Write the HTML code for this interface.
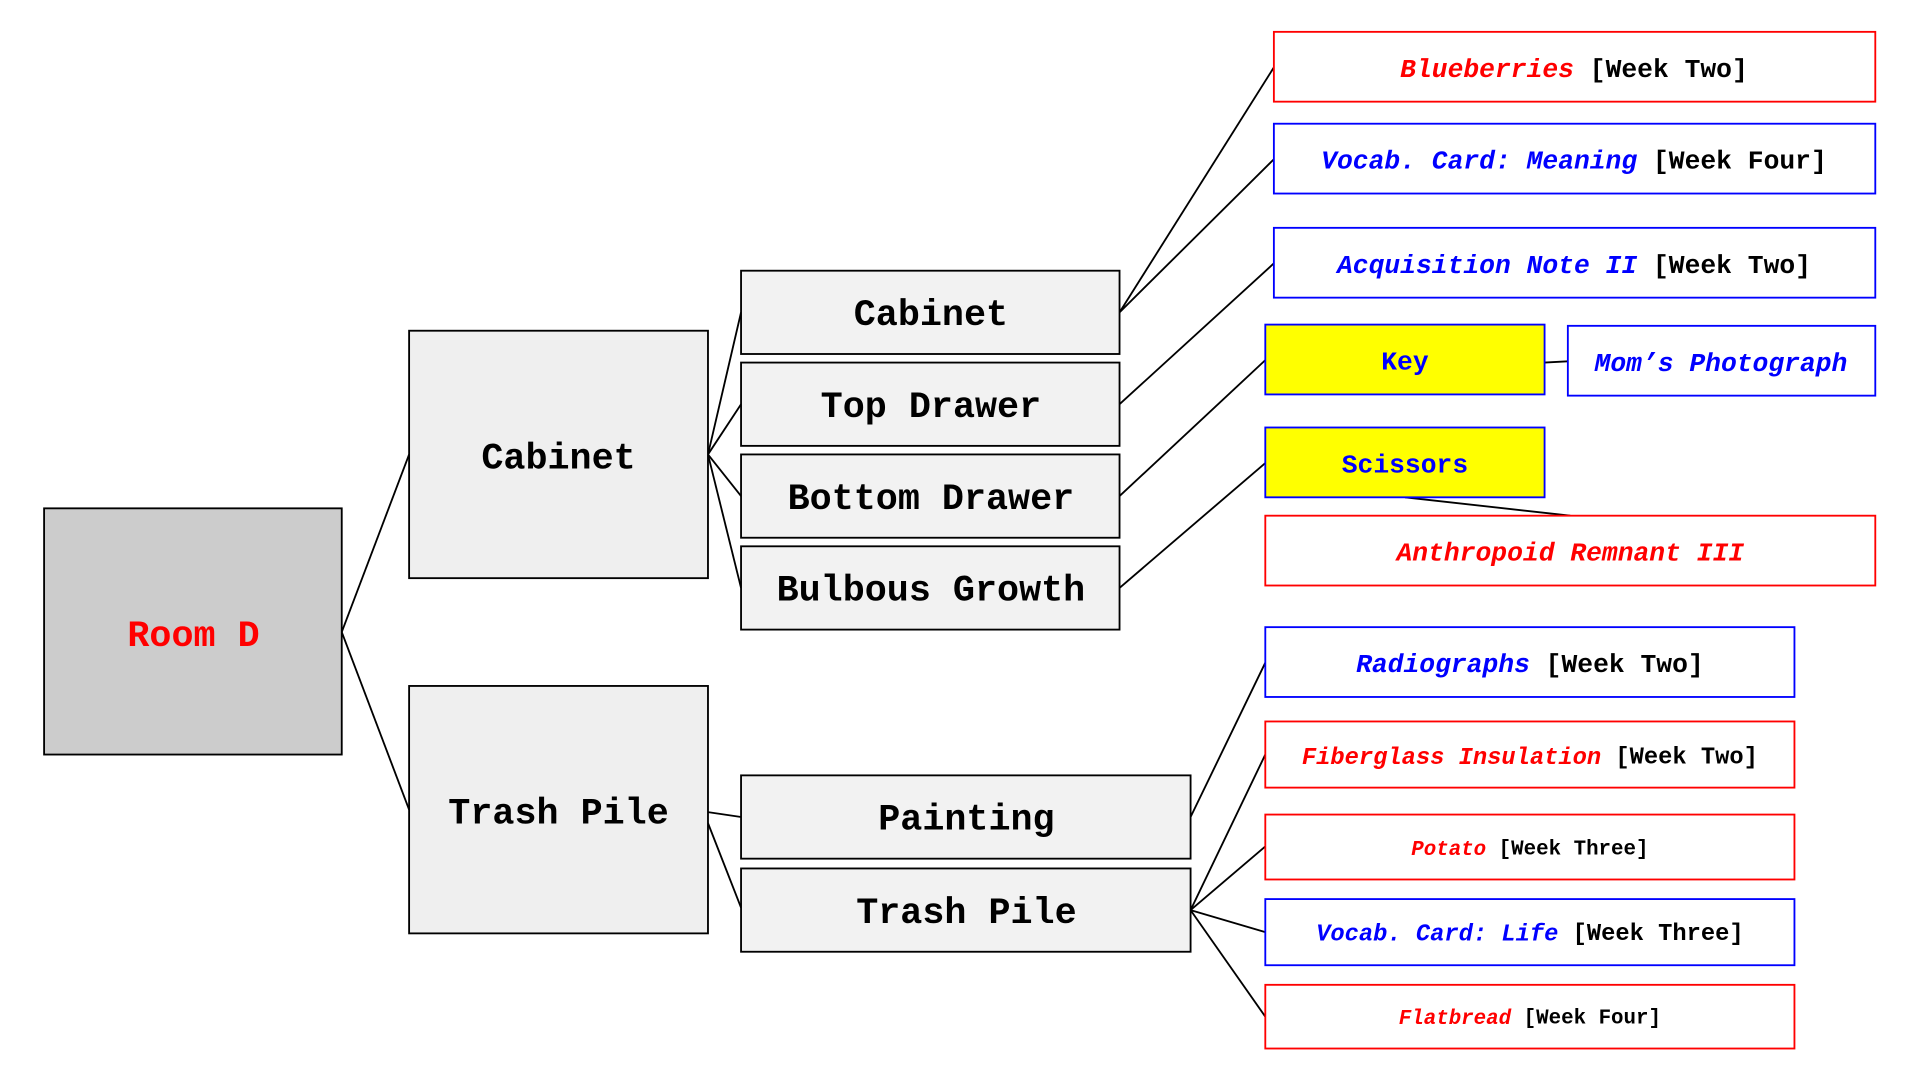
<!DOCTYPE html>
<html><head><meta charset="utf-8"><style>
html,body{margin:0;padding:0;background:#fff;width:1920px;height:1080px;overflow:hidden}
svg{display:block}
text{font-family:"Liberation Mono","DejaVu Sans Mono",monospace;font-weight:bold;text-anchor:middle;dominant-baseline:central}
</style></head><body>
<svg width="1920" height="1080" viewBox="0 0 1567.5 881.7" preserveAspectRatio="none" xmlns="http://www.w3.org/2000/svg">
<g stroke="#000" stroke-width="1.5" fill="none">
<line x1="279" y1="516" x2="334" y2="371"/>
<line x1="279" y1="516" x2="334" y2="661"/>
<line x1="578" y1="371" x2="605" y2="255"/>
<line x1="578" y1="371" x2="605" y2="330"/>
<line x1="578" y1="371" x2="605" y2="405"/>
<line x1="578" y1="371" x2="605" y2="480"/>
<line x1="578" y1="663" x2="605" y2="667"/>
<line x1="578" y1="672" x2="605" y2="741"/>
<line x1="914" y1="255" x2="1040" y2="55"/>
<line x1="914" y1="255" x2="1040" y2="130"/>
<line x1="914" y1="330" x2="1040" y2="215"/>
<line x1="914" y1="405" x2="1033" y2="294"/>
<line x1="914" y1="480" x2="1033" y2="378"/>
<line x1="1261" y1="296" x2="1280" y2="295"/>
<line x1="1147" y1="406" x2="1282" y2="421"/>
<line x1="972" y1="667" x2="1033" y2="541"/>
<line x1="972" y1="743" x2="1033" y2="616"/>
<line x1="972" y1="743" x2="1033" y2="691"/>
<line x1="972" y1="743" x2="1033" y2="761"/>
<line x1="972" y1="743" x2="1033" y2="830"/>
</g>
<g stroke="#000" stroke-width="1.5">
<rect x="36" y="415" width="243" height="201" fill="#cccccc"/>
<rect x="334" y="270" width="244" height="202" fill="#efefef"/>
<rect x="334" y="560" width="244" height="202" fill="#efefef"/>
<rect x="605" y="221" width="309" height="68" fill="#f2f2f2"/>
<rect x="605" y="296" width="309" height="68" fill="#f2f2f2"/>
<rect x="605" y="371" width="309" height="68" fill="#f2f2f2"/>
<rect x="605" y="446" width="309" height="68" fill="#f2f2f2"/>
<rect x="605" y="633" width="367" height="68" fill="#f2f2f2"/>
<rect x="605" y="709" width="367" height="68" fill="#f2f2f2"/>
</g>
<g stroke-width="1.5" fill="#fff">
<rect x="1040" y="26" width="491" height="57" stroke="#f00"/>
<rect x="1040" y="101" width="491" height="57" stroke="#00f"/>
<rect x="1040" y="186" width="491" height="57" stroke="#00f"/>
<rect x="1033" y="265" width="228" height="57" stroke="#00f" fill="#ff0"/>
<rect x="1280" y="266" width="251" height="57" stroke="#00f"/>
<rect x="1033" y="349" width="228" height="57" stroke="#00f" fill="#ff0"/>
<rect x="1033" y="421" width="498" height="57" stroke="#f00"/>
<rect x="1033" y="512" width="432" height="57" stroke="#00f"/>
<rect x="1033" y="589" width="432" height="54" stroke="#f00"/>
<rect x="1033" y="665" width="432" height="53" stroke="#f00"/>
<rect x="1033" y="734" width="432" height="54" stroke="#00f"/>
<rect x="1033" y="804" width="432" height="52" stroke="#f00"/>
</g>
<g font-size="30">
<text x="158" y="520" fill="#f00">Room D</text>
<text x="456" y="375">Cabinet</text>
<text x="456" y="665">Trash Pile</text>
<text x="760" y="258">Cabinet</text>
<text x="760" y="333">Top Drawer</text>
<text x="760" y="408">Bottom Drawer</text>
<text x="760" y="483">Bulbous Growth</text>
<text x="789" y="670">Painting</text>
<text x="789" y="746">Trash Pile</text>
</g>
<g font-size="21.5">
<text x="1285" y="57"><tspan fill="#f00" font-style="italic">Blueberries</tspan> [Week Two]</text>
<text x="1285" y="132"><tspan fill="#00f" font-style="italic">Vocab. Card: Meaning</tspan> [Week Four]</text>
<text x="1285" y="217"><tspan fill="#00f" font-style="italic">Acquisition Note II</tspan> [Week Two]</text>
<text x="1147" y="296" fill="#00f">Key</text>
<text x="1405" y="297" fill="#00f" font-style="italic">Mom’s Photograph</text>
<text x="1147" y="380" fill="#00f">Scissors</text>
<text x="1282" y="452" fill="#f00" font-style="italic">Anthropoid Remnant III</text>
<text x="1249" y="543"><tspan fill="#00f" font-style="italic">Radiographs</tspan> [Week Two]</text>
</g>
<text x="1249" y="619" font-size="19.4"><tspan fill="#f00" font-style="italic">Fiberglass Insulation</tspan> [Week Two]</text>
<text x="1249" y="694" font-size="17"><tspan fill="#f00" font-style="italic">Potato</tspan> [Week Three]</text>
<text x="1249" y="763" font-size="19.4"><tspan fill="#00f" font-style="italic">Vocab. Card: Life</tspan> [Week Three]</text>
<text x="1249" y="832" font-size="17"><tspan fill="#f00" font-style="italic">Flatbread</tspan> [Week Four]</text>
</svg>
</body></html>
